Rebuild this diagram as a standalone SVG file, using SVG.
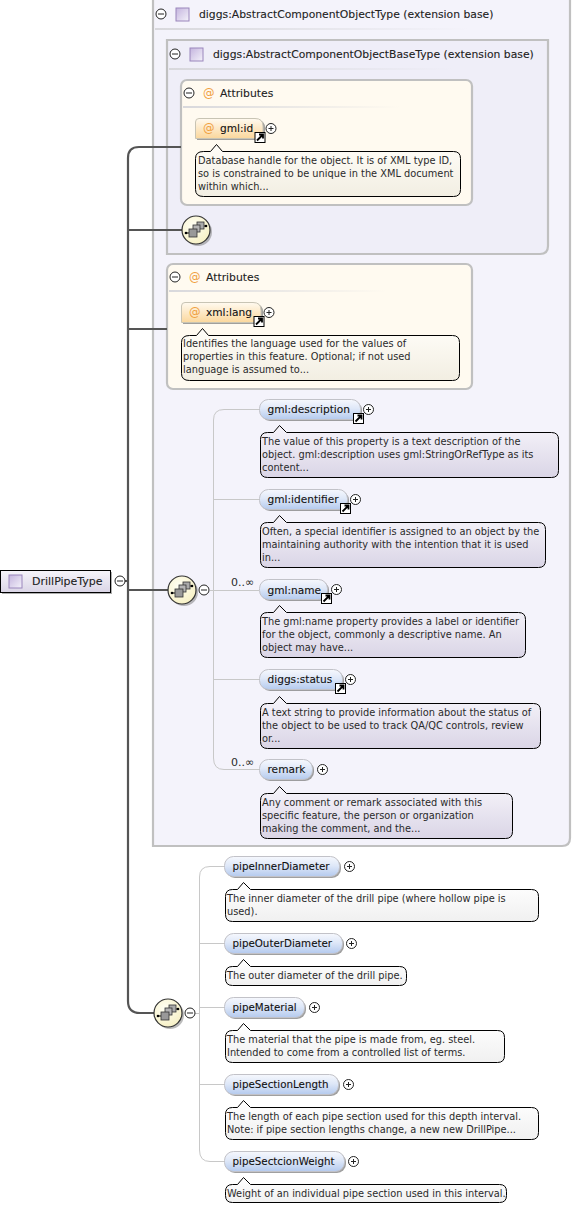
<svg xmlns="http://www.w3.org/2000/svg" xmlns:xlink="http://www.w3.org/1999/xlink" width="573" height="1207" viewBox="0 0 573 1207">
<style>
text{font-family:"DejaVu Sans","Liberation Sans",sans-serif;fill:#1a1a1a}
.t{font-size:9.8px;fill:#2a2a2a}
.c{font-size:11px;fill:#2a2a2a}
.n{font-size:10.6px;fill:#111;stroke:#111;stroke-width:.1}
.p{font-size:10.3px;fill:#111;stroke:#111;stroke-width:.1}
.h{font-size:10.8px;fill:#222;stroke:#222;stroke-width:.1}
.at{fill:#f0a040;font-size:11.5px}
.box{stroke:#c0c0c0;stroke-width:2.2}
.thin{stroke:#c8c8c8;stroke-width:1;fill:none}
.thick{stroke:#555;stroke-width:2.2;fill:none}
.b{fill:url(#gb);stroke:#000;stroke-width:1;transform:translate(.5px,.5px)}
.bu{fill:url(#gbu);stroke:#000;stroke-width:1;transform:translate(.5px,.5px)}
.bw{fill:url(#gw);stroke:#000;stroke-width:1;transform:translate(.5px,.5px)}
.e{fill:url(#ge);stroke:#c2c2c8;stroke-width:1}
.o{fill:url(#go);stroke:#c8c4b4;stroke-width:1}
.sh{fill:#777;opacity:.7}
</style>
<defs>
<linearGradient id="gb" x1="0" y1="0" x2="0" y2="1"><stop offset="0" stop-color="#f6f4fa"/><stop offset="1" stop-color="#dad5e6"/></linearGradient>
<linearGradient id="gbu" x1="0" y1="0" x2="0" y2="1"><stop offset="0" stop-color="#fffdf8"/><stop offset="1" stop-color="#f2eee2"/></linearGradient>
<linearGradient id="gw" x1="0" y1="0" x2="0" y2="1"><stop offset="0" stop-color="#fff"/><stop offset="1" stop-color="#f0f0f0"/></linearGradient>
<linearGradient id="ge" x1="0" y1="0" x2="0" y2="1"><stop offset="0" stop-color="#f6f8fd"/><stop offset=".45" stop-color="#dfe8f8"/><stop offset="1" stop-color="#b4caee"/></linearGradient>
<linearGradient id="go" x1="0" y1="0" x2="0" y2="1"><stop offset="0" stop-color="#fffaf0"/><stop offset="1" stop-color="#fbd79c"/></linearGradient>
<linearGradient id="gi" x1="0" y1="0" x2="1" y2="1"><stop offset="0" stop-color="#c4b4de"/><stop offset="1" stop-color="#f4f2fa"/></linearGradient>
<linearGradient id="gs1" x1="0" y1="0" x2="1" y2="0"><stop offset="0" stop-color="#d8d8dc"/><stop offset="1" stop-color="#d8d8dc" stop-opacity="0"/></linearGradient>
<radialGradient id="gs" cx=".4" cy=".35" r=".75"><stop offset="0" stop-color="#fffff4"/><stop offset="1" stop-color="#f6efc0"/></radialGradient>
<g id="minus"><circle r="5" fill="#fff" stroke="#222" stroke-width="1"/><path d="M-3 0H3" stroke="#222" stroke-width="1"/></g>
<g id="plus"><circle r="5" fill="#fff" stroke="#222" stroke-width="1"/><path d="M-2.500 0H2.500M0-2.500V2.500" stroke="#222" stroke-width="1"/></g>
<g id="icon"><rect x="-6" y="-6" width="13" height="13" fill="url(#gi)" stroke="#9a86bc" stroke-width="1"/></g>
<g id="link"><rect x="-5" y="-5" width="10" height="10" fill="#fff" stroke="#000"/><path d="M-3 3L2-2M-1-3H3V1" fill="none" stroke="#000" stroke-width="1.800"/></g>
<g id="seq"><circle cx="2" cy="2" r="14" fill="#777" opacity=".5"/><circle r="14" fill="url(#gs)" stroke="#333" stroke-width="1.200"/><path d="M-10 3H-6M7-4H11" stroke="#000" stroke-width="1"/><circle cx="-10" cy="3" r="1.300" fill="#000"/><circle cx="10" cy="-4" r="1.300" fill="#000"/><rect x="1" y="-8" width="7" height="7" fill="#aaa" stroke="#333" stroke-width=".8"/><rect x="-3" y="-5" width="7" height="7" fill="#b4b4b4" stroke="#333" stroke-width=".8"/><rect x="-7" y="-1" width="8" height="8" fill="#999" stroke="#333" stroke-width=".8"/></g>
</defs>

<g id="container-extension-1">
<path class="box" d="M153-5H570V838Q570 846 562 846H153Z" fill="#f4f3fb"/>
<use xlink:href="#minus" x="161" y="14"/><use xlink:href="#icon" x="182" y="14"/>
<text class="h" x="199" y="18">diggs:AbstractComponentObjectType (extension base)</text>
<rect x="155" y="28" width="315" height="2" fill="url(#gs1)"/>
</g>
<g id="container-extension-2">
<path class="box" d="M167 40H548V246Q548 254 540 254H167Z" fill="#efeef8"/>
<use xlink:href="#minus" x="175" y="54"/><use xlink:href="#icon" x="196" y="54"/>
<text class="h" x="213" y="58">diggs:AbstractComponentObjectBaseType (extension base)</text>
<rect x="169" y="68" width="286" height="2" fill="url(#gs1)"/>
</g>
<g id="attributes-1">
<rect class="box" x="181" y="80" width="291" height="125" rx="6" fill="#fffaf0"/>
<use xlink:href="#minus" x="189" y="93"/><text class="at" x="203" y="97">@</text>
<text class="h" x="220" y="97">Attributes</text>
<rect x="183" y="106" width="217" height="2" fill="url(#gs1)"/>
</g>
<g id="attributes-2">
<rect class="box" x="167" y="264" width="305" height="125" rx="6" fill="#fffaf0"/>
<use xlink:href="#minus" x="175" y="277"/><text class="at" x="189" y="281">@</text>
<text class="h" x="206" y="281">Attributes</text>
<rect x="169" y="290" width="217" height="2" fill="url(#gs1)"/>
</g>

<g id="connectors">
<path class="thick" d="M128 1001V158Q128 147 139 147H181M128 230H182M128 329H167M128 590H168M128 1001Q128 1013 140 1013H154M125 581H128"/>
<path class="thin" d="M210 590.500H259M259 409.500H224Q213.500 409.500 213.500 420V758Q213.500 769.500 224 769.500H259M213.500 499.500H259M213.500 679.500H259"/>
<path class="thin" d="M195 1013.500H199.500M224 866.500H210Q199.500 866.500 199.500 877V1150Q199.500 1161.500 210 1161.500H224M199.500 943.500H224M199.500 1007.500H224M199.500 1084.500H224"/>
</g>

<g id="DrillPipeType">
<rect x="2" y="572" width="110" height="22" fill="#777" opacity=".6"/>
<rect x="0.500" y="570.500" width="110" height="22" fill="url(#gb)" stroke="#000"/>
<use xlink:href="#icon" x="15" y="581"/>
<text class="h" style="font-size:11px" x="32" y="585">DrillPipeType</text>
<use xlink:href="#minus" x="120" y="581"/>
</g>
<g id="seq-1"><use xlink:href="#seq" x="196" y="230"/></g>
<g id="seq-2"><use xlink:href="#seq" x="182" y="590"/><use xlink:href="#minus" x="204" y="590"/></g>
<g id="seq-3"><use xlink:href="#seq" x="168" y="1013"/><use xlink:href="#minus" x="190" y="1013"/></g>

<g id="gml-id">
<path class="sh" d="M197 120H257Q265 120 265 128V140H197Z"/>
<path d="M195.500 122Q195.500 118.500 199 118.500H255Q263 118.500 263 126V138.500H195.500Z" class="o"/>
<text class="at" x="203" y="132">@</text><text class="n" x="220" y="132">gml:id</text>
<use xlink:href="#link" x="260" y="137.500"/><use xlink:href="#plus" x="271" y="128.500"/>
<path class="bu" d="M203 151H210L216 144L222 151H453Q460 151 460 158V189Q460 196 453 196H203Q195 196 195 189V158Q195 151 203 151Z"/>
<text class="t"><tspan x="198" y="164">Database handle for the object. It is of XML type ID,</tspan><tspan x="198" y="177">so is constrained to be unique in the XML document</tspan><tspan x="198" y="190">within which...</tspan></text>
</g>
<g id="xml-lang">
<path class="sh" d="M183 304H255Q263 304 263 312V324H183Z"/>
<path d="M181.500 306Q181.500 302.500 185 302.500H253Q261 302.500 261 310V322.500H181.500Z" class="o"/>
<text class="at" x="189" y="316">@</text><text class="n" x="206" y="316">xml:lang</text>
<use xlink:href="#link" x="259" y="321.500"/><use xlink:href="#plus" x="269" y="312.500"/>
<path class="bu" d="M189 335H196L202 328L208 335H452Q459 335 459 342V373Q459 380 452 380H189Q181 380 181 373V342Q181 335 189 335Z"/>
<text class="t"><tspan x="183" y="347">Identifies the language used for the values of</tspan><tspan x="183" y="360">properties in this feature. Optional; if not used</tspan><tspan x="183" y="373">language is assumed to...</tspan></text>
</g>

<g id="gml-description">
<rect class="sh" x="261" y="401" width="101" height="20" rx="9"/>
<rect class="e" x="259.500" y="399.500" width="101" height="20" rx="9"/>
<text class="n" x="267.500" y="413">gml:description</text>
<use xlink:href="#link" x="358.500" y="418.500"/><use xlink:href="#plus" x="368.500" y="409.500"/>
<path class="b" d="M267 432H273L279 425L286 432H551Q558 432 558 439V470Q558 477 551 477H267Q260 477 260 470V439Q260 432 267 432Z"/>
<text class="t"><tspan x="262" y="445">The value of this property is a text description of the</tspan><tspan x="262" y="458">object. gml:description uses gml:StringOrRefType as its</tspan><tspan x="262" y="471">content...</tspan></text>
</g>
<g id="gml-identifier">
<rect class="sh" x="261" y="491" width="88" height="20" rx="9"/>
<rect class="e" x="259.500" y="489.500" width="88" height="20" rx="9"/>
<text class="n" x="267.500" y="503">gml:identifier</text>
<use xlink:href="#link" x="345.500" y="508.500"/><use xlink:href="#plus" x="355.500" y="499.500"/>
<path class="b" d="M267 522H273L279 515L286 522H538Q545 522 545 529V560Q545 567 538 567H267Q260 567 260 560V529Q260 522 267 522Z"/>
<text class="t"><tspan x="262" y="535">Often, a special identifier is assigned to an object by the</tspan><tspan x="262" y="548">maintaining authority with the intention that it is used</tspan><tspan x="262" y="561">in...</tspan></text>
</g>
<g id="gml-name">
<text class="c" x="231" y="586">0..∞</text>
<rect class="sh" x="261" y="581" width="68" height="20" rx="9"/>
<rect class="e" x="259.500" y="579.500" width="68" height="20" rx="9"/>
<text class="n" x="267.500" y="594">gml:name</text>
<use xlink:href="#link" x="326.500" y="598.500"/><use xlink:href="#plus" x="336.500" y="589.500"/>
<path class="b" d="M267 612H273L279 605L286 612H518Q525 612 525 619V650Q525 657 518 657H267Q260 657 260 650V619Q260 612 267 612Z"/>
<text class="t"><tspan x="262" y="625">The gml:name property provides a label or identifier</tspan><tspan x="262" y="638">for the object, commonly a descriptive name. An</tspan><tspan x="262" y="651">object may have...</tspan></text>
</g>
<g id="diggs-status">
<rect class="sh" x="261" y="671" width="83" height="20" rx="9"/>
<rect class="e" x="259.500" y="669.500" width="83" height="20" rx="9"/>
<text class="n" x="267.500" y="683">diggs:status</text>
<use xlink:href="#link" x="340.500" y="688.500"/><use xlink:href="#plus" x="350.500" y="679.500"/>
<path class="b" d="M267 703H273L279 696L286 703H533Q540 703 540 710V741Q540 748 533 748H267Q260 748 260 741V710Q260 703 267 703Z"/>
<text class="t"><tspan x="262" y="716">A text string to provide information about the status of</tspan><tspan x="262" y="729">the object to be used to track QA/QC controls, review</tspan><tspan x="262" y="742">or...</tspan></text>
</g>
<g id="remark">
<text class="c" x="231" y="766">0..∞</text>
<rect class="sh" x="261" y="761" width="53" height="20" rx="9"/>
<rect class="e" x="259.500" y="759.500" width="53" height="20" rx="9"/>
<text class="n" x="267.500" y="773">remark</text>
<use xlink:href="#plus" x="322.500" y="769.500"/>
<path class="b" d="M267 793H273L279 786L286 793H505Q512 793 512 800V831Q512 838 505 838H267Q260 838 260 831V800Q260 793 267 793Z"/>
<text class="t"><tspan x="262" y="806">Any comment or remark associated with this</tspan><tspan x="262" y="819">specific feature, the person or organization</tspan><tspan x="262" y="832">making the comment, and the...</tspan></text>
</g>

<g id="pipeInnerDiameter">
<rect class="sh" x="226" y="858" width="115" height="20" rx="9"/>
<rect class="e" x="224.500" y="856.500" width="115" height="20" rx="9"/>
<text class="p" x="232.500" y="870">pipeInnerDiameter</text>
<use xlink:href="#plus" x="349.500" y="866.500"/>
<path class="bw" d="M232 889H237L243 882L250 889H531Q538 889 538 896V914Q538 921 531 921H232Q225 921 225 914V896Q225 889 232 889Z"/>
<text class="t"><tspan x="227" y="902">The inner diameter of the drill pipe (where hollow pipe is</tspan><tspan x="227" y="915">used).</tspan></text>
</g>
<g id="pipeOuterDiameter">
<rect class="sh" x="226" y="935" width="118" height="20" rx="9"/>
<rect class="e" x="224.500" y="933.500" width="118" height="20" rx="9"/>
<text class="p" x="232.500" y="947">pipeOuterDiameter</text>
<use xlink:href="#plus" x="351.500" y="943.500"/>
<path class="bw" d="M232 966H237L243 959L250 966H399Q406 966 406 973V978Q406 985 399 985H232Q225 985 225 978V973Q225 966 232 966Z"/>
<text class="t" x="227" y="979">The outer diameter of the drill pipe.</text>
</g>
<g id="pipeMaterial">
<rect class="sh" x="226" y="999" width="80" height="20" rx="9"/>
<rect class="e" x="224.500" y="997.500" width="80" height="20" rx="9"/>
<text class="p" x="232.500" y="1011">pipeMaterial</text>
<use xlink:href="#plus" x="314.500" y="1007.500"/>
<path class="bw" d="M232 1030H237L243 1023L250 1030H497Q504 1030 504 1037V1055Q504 1062 497 1062H232Q225 1062 225 1055V1037Q225 1030 232 1030Z"/>
<text class="t"><tspan x="227" y="1043">The material that the pipe is made from, eg. steel.</tspan><tspan x="227" y="1056">Intended to come from a controlled list of terms.</tspan></text>
</g>
<g id="pipeSectionLength">
<rect class="sh" x="226" y="1076" width="114" height="20" rx="9"/>
<rect class="e" x="224.500" y="1074.500" width="114" height="20" rx="9"/>
<text class="p" x="232.500" y="1088">pipeSectionLength</text>
<use xlink:href="#plus" x="348.500" y="1084.500"/>
<path class="bw" d="M232 1107H237L243 1100L250 1107H531Q538 1107 538 1114V1132Q538 1139 531 1139H232Q225 1139 225 1132V1114Q225 1107 232 1107Z"/>
<text class="t"><tspan x="227" y="1120">The length of each pipe section used for this depth interval.</tspan><tspan x="227" y="1133">Note: if pipe section lengths change, a new new DrillPipe...</tspan></text>
</g>
<g id="pipeSectcionWeight">
<rect class="sh" x="226" y="1153" width="120" height="20" rx="9"/>
<rect class="e" x="224.500" y="1151.500" width="120" height="20" rx="9"/>
<text class="p" x="232.500" y="1165">pipeSectcionWeight</text>
<use xlink:href="#plus" x="353.500" y="1161.500"/>
<path class="bw" d="M232 1184H237L243 1177L250 1184H499Q506 1184 506 1191V1195Q506 1202 499 1202H232Q225 1202 225 1195V1191Q225 1184 232 1184Z"/>
<text class="t" x="227" y="1197">Weight of an individual pipe section used in this interval.</text>
</g>
</svg>
